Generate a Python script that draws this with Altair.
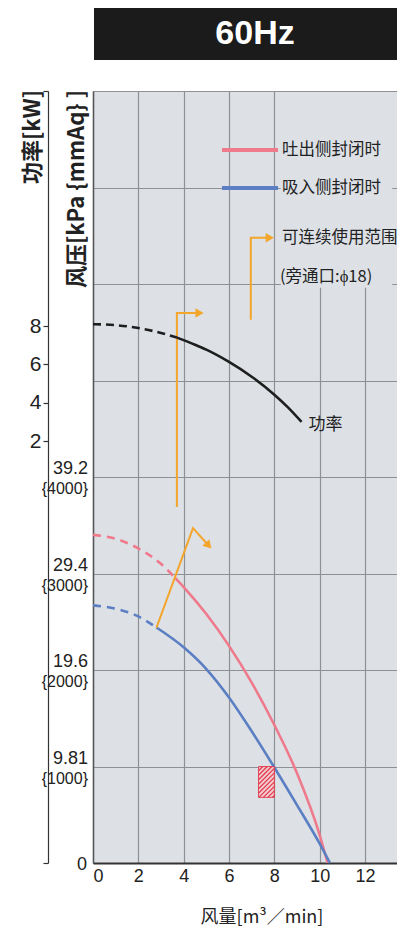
import altair as alt
import pandas as pd

# ---------------- data ----------------
title_text = ["60Hz"]
flow_ticks = [0, 2, 4, 6, 8, 10, 12]
grid_mmaq = [0, 1000, 2000, 3000, 4000, 5000, 6000, 7000, 8000]
kpa_pos = [1000, 2000, 3000, 4000]
kpa_text = ["9.81", "19.6", "29.4", "39.2"]
mmaq_text = ["{1000}", "{2000}", "{3000}", "{4000}"]
zero_text = ["0"]
power_ticks = [2, 4, 6, 8]

power_dash_x = [0, 1, 2, 3, 3.7]
power_dash_y = [8.1, 8.05, 7.9, 7.64, 7.4]
power_x = [3.7, 4.5, 5, 6, 7, 8, 8.6, 9.2]
power_y = [7.4, 7.03, 6.77, 6.13, 5.36, 4.42, 3.76, 3.0]

dis_dash_x = [0, 1, 2, 3, 3.6]
dis_dash_y = [3400, 3360, 3260, 3100, 2960]
dis_x = [3.6, 4, 5, 6, 7, 8, 9, 10, 10.35]
dis_y = [2960, 2860, 2580, 2250, 1870, 1430, 930, 290, 0]

suc_dash_x = [0, 1, 2, 2.8]
suc_dash_y = [2670, 2635, 2555, 2440]
suc_x = [2.8, 4, 5, 6, 7, 8, 9, 10, 10.45]
suc_y = [2440, 2235, 2010, 1715, 1365, 990, 600, 200, 0]

hatch_box = [7.3, 8.0, 680, 1000]          # flow0, flow1, p0, p1
legend_box = [8.28, 13.2, 5960, 7990]

arrow1_x = [3.7, 3.7, 4.7]
arrow1_y = [3690, 5700, 5700]
arrow2_x = [2.8, 4.41, 5.1]
arrow2_y = [2440, 3470, 3290]
arrow3_x = [6.96, 6.96, 7.8]
arrow3_y = [5630, 6480, 6480]

power_label = ["功率"]
legend_texts = ["吐出侧封闭时", "吸入侧封闭时", "可连续使用范围", "(旁通口:ϕ18)"]
x_title = ["风量[m³／min]"]
p_title = ["风压[kPa {mmAq} ]"]
w_title = ["功率[kW]"]

# ---------------- styles ----------------
NUM_FONT = "Liberation Sans Narrow, Arial Narrow, Liberation Sans, sans-serif"
CJK = "Noto Sans CJK SC"
BG = "#dde1e6"
GRID = "#8e9094"
RED = "#ee7a8c"
BLUE = "#5b7fc2"
BLACK = "#1e1e1e"
ORANGE = "#f3a52c"
HATCH = "#e23a4c"

W, H = 304, 772
PX_Q = 22.67
PX_P = H / 8000.0

xs = alt.Scale(domain=[0, W / PX_Q], nice=False, zero=False)
ys_p = alt.Scale(domain=[0, 8000], nice=False, zero=False)
ys_w = alt.Scale(domain=[-20.0, 20.26], nice=False, zero=False)

x_axis = alt.Axis(values=flow_ticks, grid=True, gridColor=GRID, gridWidth=1.2,
                  ticks=False, domainColor="#333", domainWidth=2,
                  labelFont=NUM_FONT, labelFontSize=18, labelColor="#222",
                  labelPadding=4, title=None)
p_axis = alt.Axis(values=grid_mmaq, grid=True, gridColor=GRID, gridWidth=1.2,
                  ticks=False, labels=False, domainColor="#555", domainWidth=1.5,
                  title=None, orient="left")
w_axis = alt.Axis(values=[-20.0] + power_ticks + [20.26], orient="left", offset=45,
                  grid=False, ticks=True, tickSize=5, tickColor="#333", tickWidth=1.2,
                  domainColor="#333", domainWidth=1.2,
                  labelExpr="datum.value > 0 && datum.value < 10 ? datum.label : ''",
                  labelFont=NUM_FONT, labelFontSize=21, labelColor="#222",
                  labelPadding=2, title=None)

X = alt.X("q:Q", scale=xs, axis=x_axis)
YP = alt.Y("p:Q", scale=ys_p, axis=p_axis)
YW = alt.Y("w:Q", scale=ys_w, axis=w_axis)


def pdf(x, y):
    return pd.DataFrame({"q": x, "p": y, "i": list(range(len(x)))})


def wdf(x, y):
    return pd.DataFrame({"q": x, "w": y})


def curve(df, color, dash=None, y=YP):
    kw = dict(color=color, strokeWidth=2.6, interpolate="monotone")
    if dash:
        kw["strokeDash"] = dash
    return alt.Chart(df).mark_line(**kw).encode(x=X, y=y)


# hatch segments inside the box (45 degrees in pixel space)
q0, q1, p0, p1 = hatch_box
bw = (q1 - q0) * PX_Q
bh = (p1 - p0) * PX_P
segs = []
k = -bw + 2.0
while k < bh:
    u0 = max(0.0, -k)
    u1 = min(bw, bh - k)
    if u1 > u0:
        segs.append(dict(q=q0 + u0 / PX_Q, p=p0 + (u0 + k) / PX_P,
                         q2=q0 + u1 / PX_Q, p2=p0 + (u1 + k) / PX_P))
    k += 4.5
hatch_df = pd.DataFrame(segs)

legend_bg = alt.Chart(pd.DataFrame({"q": [legend_box[0]], "q2": [legend_box[1]],
                                    "p": [legend_box[2]], "p2": [legend_box[3]]})).mark_rect(
    color=BG).encode(x=X, x2="q2:Q", y=YP, y2="p2:Q")

hatch_rect = alt.Chart(pd.DataFrame({"q": [q0], "q2": [q1], "p": [p0], "p2": [p1]})).mark_rect(
    fill="#f6c9cf", stroke=HATCH, strokeWidth=1, opacity=0.9).encode(
    x=X, x2="q2:Q", y=YP, y2="p2:Q")
hatch_lines = alt.Chart(hatch_df).mark_rule(color=HATCH, strokeWidth=1.2).encode(
    x=X, x2="q2:Q", y=YP, y2="p2:Q")


def arrow(xv, yv, angle):
    df = pdf(xv, yv)
    line = alt.Chart(df).mark_line(color=ORANGE, strokeWidth=2).encode(
        x=X, y=YP, order="i:Q")
    head = alt.Chart(df.tail(1)).mark_point(shape="triangle-right", filled=True,
                                             size=90, color=ORANGE, opacity=1,
                                             angle=angle).encode(x=X, y=YP)
    return [line, head]


kpa_labels = alt.Chart(pd.DataFrame({"p": kpa_pos, "t": kpa_text})).mark_text(
    align="right", baseline="alphabetic", dy=-3, font=NUM_FONT, fontSize=18,
    color="#222").encode(x=alt.value(-5), y=YP, text="t:N")
mm_labels = alt.Chart(pd.DataFrame({"p": kpa_pos, "t": mmaq_text})).mark_text(
    align="right", baseline="top", dy=4, font=NUM_FONT, fontSize=16,
    color="#222").encode(x=alt.value(-5), y=YP, text="t:N")
zero_label = alt.Chart(pd.DataFrame({"p": [0], "t": zero_text})).mark_text(
    align="right", baseline="middle", dy=2, font=NUM_FONT, fontSize=18,
    color="#222").encode(x=alt.value(-6), y=YP, text="t:N")

pressure = alt.layer(
    legend_bg,
    curve(pdf(dis_dash_x, dis_dash_y), RED, [8, 6]),
    curve(pdf(dis_x, dis_y), RED),
    curve(pdf(suc_dash_x, suc_dash_y), BLUE, [8, 6]),
    curve(pdf(suc_x, suc_y), BLUE),
    hatch_rect, hatch_lines,
    *arrow(arrow1_x, arrow1_y, 0),
    *arrow(arrow2_x, arrow2_y, 48),
    *arrow(arrow3_x, arrow3_y, 0),
    kpa_labels, mm_labels, zero_label,
)

power_text = alt.Chart(pd.DataFrame({"q": [power_x[-1]], "w": [power_y[-1]], "t": power_label})).mark_text(
    align="left", baseline="middle", dx=7, dy=3, font=CJK, fontSize=17, color="#222").encode(
    x=X, y=YW, text="t:N")

power = alt.layer(
    curve(wdf(power_dash_x, power_dash_y), BLACK, [8, 5], YW),
    curve(wdf(power_x, power_y), BLACK, None, YW),
    power_text,
)


def label(text, x, y, **kw):
    base = dict(font=CJK, fontSize=16.5, color="#222", align="left", baseline="middle")
    base.update(kw)
    return alt.Chart(pd.DataFrame({"t": text})).mark_text(**base).encode(
        x=alt.value(x), y=alt.value(y), text="t:N")


title_bar = alt.Chart(pd.DataFrame({"t": title_text})).mark_rect(color="#1b1b1b").encode(
    x=alt.value(1), x2=alt.value(W), y=alt.value(-83), y2=alt.value(-31))
title_txt = label(title_text, 162, -57, font=NUM_FONT, fontSize=34, fontWeight="bold",
                  color="white", align="center")

leg_red = alt.Chart(pd.DataFrame({"t": legend_texts[:1]})).mark_rule(color=RED, strokeWidth=4).encode(
    x=alt.value(129), x2=alt.value(185), y=alt.value(59))
leg_blue = alt.Chart(pd.DataFrame({"t": legend_texts[1:2]})).mark_rule(color=BLUE, strokeWidth=4).encode(
    x=alt.value(129), x2=alt.value(185), y=alt.value(97))

deco = [
    title_bar, title_txt,
    leg_red, leg_blue,
    label(legend_texts[:1], 189, 59),
    label(legend_texts[1:2], 189, 97),
    label(legend_texts[2:3], 189, 147),
    label(legend_texts[3:4], 187, 186),
    label(w_title, -60, -1, angle=270, align="right", fontSize=22, fontWeight="bold"),
    label(p_title, -16, -1, angle=270, align="right", fontSize=22, fontWeight="bold"),
    label(x_title, 169, 827, align="center", fontSize=18),
]

chart = alt.layer(pressure, power, *deco).resolve_scale(y="independent").properties(
    width=W, height=H,
    padding={"left": 85, "top": 83, "right": 0, "bottom": 65},
    autosize=alt.AutoSizeParams(type="none"),
).configure_view(fill=BG, stroke=None)

chart.save("out.html", embed_options={"renderer": "svg", "actions": False})
